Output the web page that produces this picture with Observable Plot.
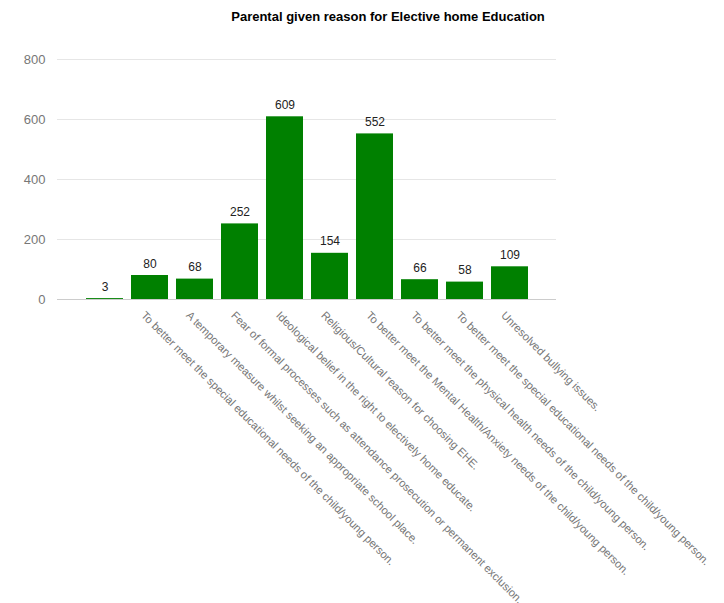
<!DOCTYPE html>
<html><head><meta charset="utf-8">
<script src="https://cdn.jsdelivr.net/npm/d3@7"></script>
<script src="https://cdn.jsdelivr.net/npm/@observablehq/plot@0.6"></script>
<style>
body{margin:0;background:#fff;font-family:Arial,"Liberation Sans",sans-serif}
#wrap{position:relative;width:724px;height:603px}
#title{position:absolute;left:388px;top:9px;transform:translateX(-50%);font:bold 13px Arial,"Liberation Sans",sans-serif;color:#000;white-space:nowrap}
svg{display:block}
</style></head><body><div id="wrap"><div id="title">Parental given reason for Elective home Education</div></div>
<script>
const reasons = [
  "",
  "To better meet the special educational needs of the child/young person.",
  "A temporary measure whilst seeking an appropriate school place.",
  "Fear of formal processes such as attendance prosecution or permanent exclusion.",
  "Ideological belief in the right to electively home educate.",
  "Religious/Cultural reason for choosing EHE.",
  "To better meet the Mental Health/Anxiety needs of the child/young person.",
  "To better meet the physical health needs of the child/young person.",
  "To better meet the special educational needs of the child/young person.",
  "Unresolved bullying issues."
];
const counts = [3, 80, 68, 252, 609, 154, 552, 66, 58, 109];
const yTicks = [0, 200, 400, 600, 800];
const data = reasons.map((r, i) => ({i, reason: r, count: counts[i]}));

const chart = Plot.plot({
  width: 724, height: 603,
  marginLeft: 57, marginRight: 168, marginTop: 59, marginBottom: 304,
  style: {fontFamily: "Arial, 'Liberation Sans', sans-serif", background: "#fff"},
  x: {type: "band", domain: d3.range(reasons.length), paddingInner: 0.185, paddingOuter: 0.59, axis: null, label: null},
  y: {domain: [0, 800], axis: null, label: null},
  marks: [
    Plot.gridY(yTicks, {stroke: "#e6e6e6", strokeOpacity: 1}),
    Plot.axisY(yTicks, {tickSize: 0, tickPadding: 12, fontSize: 13, color: "#777", label: null}),
    Plot.barY(data, {x: "i", y: "count", fill: "#008000"}),
    Plot.ruleY([0], {stroke: "#ccc"}),
    Plot.text(data, {x: "i", y: "count", text: d => String(d.count), dy: -8, lineAnchor: "bottom", fontSize: 12, fill: "#222"}),
    Plot.axisX(d3.range(reasons.length), {tickSize: 0, tickRotate: 45, tickPadding: 11, tickFormat: i => reasons[i], fontSize: 11.2, color: "#777", textAnchor: "start", lineAnchor: "top", dx: -4, label: null})
  ]
});
document.getElementById("wrap").prepend(chart);
</script></body></html>
